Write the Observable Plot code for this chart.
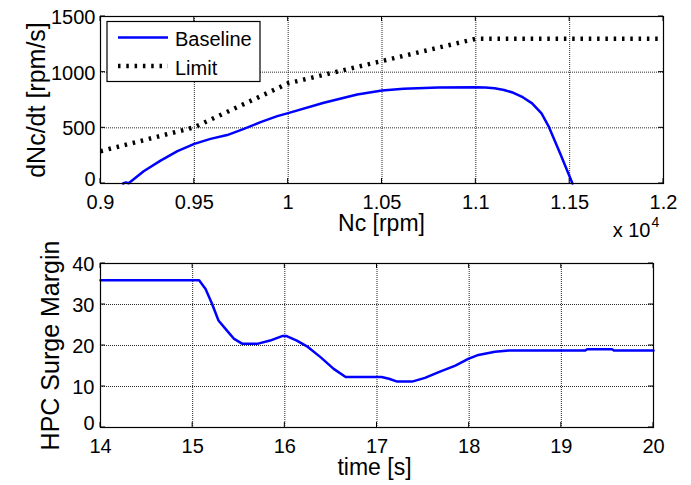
<!DOCTYPE html>
<html><head><meta charset="utf-8">
<script src="https://cdn.jsdelivr.net/npm/d3@7"></script>
<script src="https://cdn.jsdelivr.net/npm/@observablehq/plot@0.6"></script>
<style>
body{margin:0;background:#fff;}
#chart{position:relative;width:691px;height:485px;background:#fff;font-family:"Liberation Sans",Arial,sans-serif;}
#chart svg{position:absolute;left:0;overflow:visible;}
</style></head><body><div id="chart"></div>
<script>
// ---- data: top panel (Nc [rpm] vs dNc/dt [rpm/s]) ----
const baselineNc   = [9120, 9135, 9150, 9230, 9320, 9410, 9500, 9586, 9675, 9764, 9853, 9942, 10000, 10190, 10368, 10500, 10615, 10800, 11000, 11050, 11100, 11150, 11200, 11250, 11300, 11350, 11390, 11450, 11515];
const baselineRate = [0, 10, 2, 110, 205, 290, 356, 401, 435, 491, 551, 605, 632, 725, 800, 835, 850, 862, 865, 862, 855, 840, 815, 775, 720, 630, 506, 267, 0];
const limitNc   = [9000, 9500, 10000, 10500, 11000, 12000];
const limitRate = [290, 505, 900, 1100, 1300, 1300];
// ---- data: bottom panel (time [s] vs HPC Surge Margin) ----
const time = [14, 15.07, 15.14, 15.21, 15.28, 15.37, 15.45, 15.54, 15.70, 15.84, 15.97, 16.02, 16.13, 16.24, 16.39, 16.53, 16.66, 17.05, 17.13, 17.22, 17.38, 17.52, 17.67, 17.85, 17.99, 18.10, 18.28, 18.43, 19.26, 19.28, 19.55, 19.57, 20];
const surgeMargin = [35.9, 35.9, 33.8, 30.2, 26.1, 23.7, 21.6, 20.4, 20.4, 21.2, 22.3, 22.3, 21.2, 19.8, 17.1, 14.3, 12.3, 12.3, 11.9, 11.2, 11.2, 12.1, 13.5, 15.1, 16.75, 17.7, 18.5, 18.8, 18.8, 19.1, 19.1, 18.8, 18.8];
// ---- ticks & labels ----
const ncTicks = [9000, 9500, 10000, 10500, 11000, 11500, 12000];
const rateTicks = [0, 500, 1000, 1500];
const timeTicks = [14, 15, 16, 17, 18, 19, 20];
const smTicks = [0, 10, 20, 30, 40];
const seriesNames = ["Baseline", "Limit"];
const labels = {topX: "Nc [rpm]", topY: "dNc/dt [rpm/s]", exponentBase: "x 10", exponent: "4", botX: "time [s]", botY: "HPC Surge Margin"};

const FONT = '"Liberation Sans", Arial, sans-serif';
const BLUE = "#0000ff";
const DOTS = "2.5,5.8";

const baseline = baselineNc.map((d, i) => ({x: d, y: baselineRate[i]}));
const limit = limitNc.map((d, i) => ({x: d, y: limitRate[i]}));
const surge = time.map((d, i) => ({x: d, y: surgeMargin[i]}));

function decorations(xt, yt, legend) {
  return (index, scales, values, dim) => {
    const g = d3.create("svg:g");
    const l = dim.marginLeft, t = dim.marginTop, r = dim.width - dim.marginRight, b = dim.height - dim.marginBottom;
    const p = [];
    for (const v of xt) { const px = scales.x(v); p.push(`M${px},${b}v-5M${px},${t}v5`); }
    for (const v of yt) { const py = scales.y(v); p.push(`M${l},${py}h5M${r},${py}h-5`); }
    g.append("path").attr("d", p.join("")).attr("stroke", "#000").attr("fill", "none");
    if (legend) {
      const lg = g.append("g").attr("transform", `translate(${l + 7},${t + 5.5})`);
      lg.append("rect").attr("width", 153).attr("height", 60).attr("fill", "#fff").attr("stroke", "#000").attr("stroke-width", 1.2);
      const styles = [{stroke: BLUE, w: 2.5, dash: null}, {stroke: "#000", w: 4.5, dash: DOTS}];
      seriesNames.forEach((name, i) => {
        const yy = 16 + i * 28.5;
        const ln = lg.append("line").attr("x1", 11).attr("x2", 61).attr("y1", yy).attr("y2", yy)
          .attr("stroke", styles[i].stroke).attr("stroke-width", styles[i].w);
        if (styles[i].dash) ln.attr("stroke-dasharray", styles[i].dash);
        lg.append("text").attr("x", 68).attr("y", yy + 8.5).attr("font-size", 20).attr("fill", "#000")
          .attr("text-anchor", "start").attr("font-family", FONT).text(name);
      });
    }
    return g.node();
  };
}

const gridStyle = {stroke: "#000", strokeOpacity: 0.85, strokeWidth: 1, strokeDasharray: "1,1"};

const topPlot = Plot.plot({
  width: 691, height: 240,
  marginLeft: 100, marginRight: 28, marginTop: 16, marginBottom: 57,
  style: {fontFamily: FONT, fontSize: "20px", color: "#000", background: "transparent", overflow: "visible"},
  x: {domain: [9000, 12000]},
  y: {domain: [0, 1500]},
  marks: [
    Plot.gridX(ncTicks, gridStyle),
    Plot.gridY(rateTicks, gridStyle),
    Plot.axisX(ncTicks, {tickSize: 0, tickPadding: 11, tickFormat: d => String(d / 1e4), label: null}),
    Plot.axisY(rateTicks.filter(d => d !== 0), {tickSize: 0, tickPadding: 5, tickFormat: d => String(d), label: null, dy: 1}),
    Plot.axisY(rateTicks.filter(d => d === 0), {tickSize: 0, tickPadding: 5, tickFormat: d => String(d), label: null, dy: -3.5}),
    Plot.line(limit, {x: "x", y: "y", stroke: "#000", strokeWidth: 4.5, strokeDasharray: DOTS, strokeLinecap: "butt"}),
    Plot.line(baseline, {x: "x", y: "y", stroke: BLUE, strokeWidth: 2.5}),
    Plot.frame({stroke: "#000", strokeWidth: 1.2}),
    decorations(ncTicks, rateTicks, true),
    Plot.text([labels.topX], {frameAnchor: "top-left", dx: 281, dy: 207.6, text: d => d, fontSize: 23, textAnchor: "middle", lineAnchor: "middle", fill: "#000"}),
    Plot.text([labels.topY], {frameAnchor: "top-left", dx: -63.5, dy: 83.5, rotate: -90, text: d => d, fontSize: 25, textAnchor: "middle", lineAnchor: "middle", fill: "#000"}),
    Plot.text([labels.exponentBase], {frameAnchor: "top-left", dx: 550, dy: 213.6, text: d => d, fontSize: 20, textAnchor: "end", lineAnchor: "middle", fill: "#000"}),
    Plot.text([labels.exponent], {frameAnchor: "top-left", dx: 551, dy: 206.5, text: d => d, fontSize: 14, textAnchor: "start", lineAnchor: "middle", fill: "#000"})
  ]
});
topPlot.style.top = "0px";

const bottomPlot = Plot.plot({
  width: 691, height: 245,
  marginLeft: 100, marginRight: 38, marginTop: 23, marginBottom: 58,
  style: {fontFamily: FONT, fontSize: "20px", color: "#000", background: "transparent", overflow: "visible"},
  x: {domain: [14, 20]},
  y: {domain: [0, 40]},
  marks: [
    Plot.gridX(timeTicks, gridStyle),
    Plot.gridY(smTicks, gridStyle),
    Plot.axisX(timeTicks, {tickSize: 0, tickPadding: 11, tickFormat: d => String(d), label: null}),
    Plot.axisY(smTicks.filter(d => d !== 0), {tickSize: 0, tickPadding: 6, tickFormat: d => String(d), label: null, dy: 1}),
    Plot.axisY(smTicks.filter(d => d === 0), {tickSize: 0, tickPadding: 6, tickFormat: d => String(d), label: null, dy: -3.5}),
    Plot.line(surge, {x: "x", y: "y", stroke: BLUE, strokeWidth: 2.5}),
    Plot.frame({stroke: "#000", strokeWidth: 1.2}),
    decorations(timeTicks, smTicks, false),
    Plot.text([labels.botX], {frameAnchor: "top-left", dx: 274, dy: 204.6, text: d => d, fontSize: 23, textAnchor: "middle", lineAnchor: "middle", fill: "#000"}),
    Plot.text([labels.botY], {frameAnchor: "top-left", dx: -50, dy: 82, rotate: -90, text: d => d, fontSize: 25, textAnchor: "middle", lineAnchor: "middle", fill: "#000"})
  ]
});
bottomPlot.style.top = "240px";

const chart = document.getElementById("chart");
chart.appendChild(topPlot);
chart.appendChild(bottomPlot);
</script>
</body></html>
